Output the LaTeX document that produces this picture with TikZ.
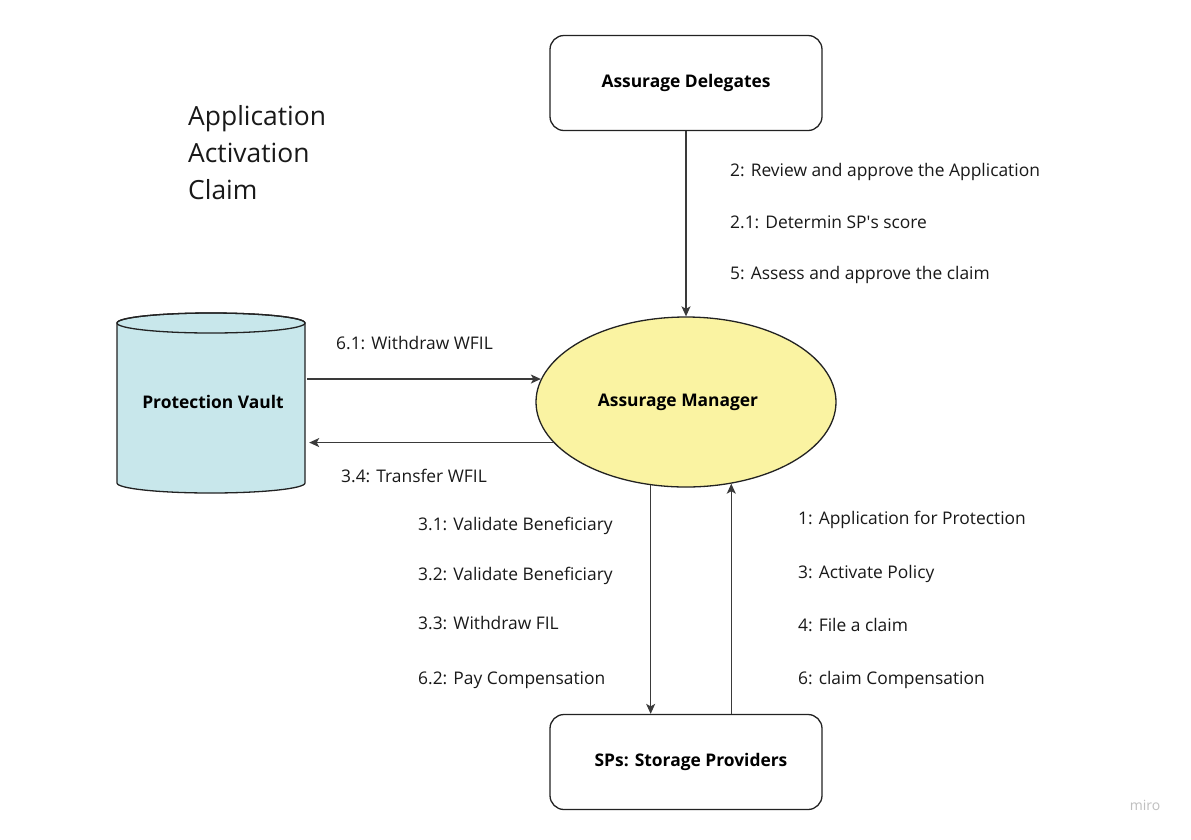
\documentclass[tikz,border=0pt]{standalone}
\usepackage{fontspec}
\setmainfont{Open Sans}
\usetikzlibrary{shapes.geometric,arrows.meta,calc}
\definecolor{vaultfill}{HTML}{C8E7EB}
\definecolor{mgrfill}{HTML}{FAF3A2}
\definecolor{linec}{HTML}{222222}
\definecolor{arrc}{HTML}{3A3A3A}
\begin{document}
\begin{tikzpicture}[x=1pt,y=1pt,
  boxnode/.style={draw=linec,line width=1.3pt,rounded corners=14pt,minimum width=272pt,minimum height=95pt,inner sep=0pt,font=\fontsize{17.4}{20}\selectfont\bfseries,fill=white},
  lbl/.style={anchor=base west,inner sep=0pt,font=\fontsize{17.4}{20}\selectfont,text=black!90},
  ttl/.style={anchor=base west,inner sep=0pt,font=\fontsize{26.4}{30}\selectfont,text=black!90},
  arr/.style={draw=arrc,line width=1.3pt,-{Stealth[length=10pt,width=9pt,inset=2.5pt]}}
]
\useasboundingbox (0,0) rectangle (1191,-839);
\fill[white] (0,0) rectangle (1191,-839);

% title
\node[ttl] (t1) at (188,-125) {Application};
\node[ttl] (t2) at (188,-162) {Activation};
\node[ttl] (t3) at (188,-199) {Claim};

% nodes
\node[boxnode] (del) at (686,-83) {Assurage Delegates};
\node[boxnode] (sp) at (686,-762) {\hspace*{10pt}SPs: Storage Providers};
\node[ellipse,draw=linec,line width=1.3pt,fill=mgrfill,minimum width=300pt,minimum height=170pt,inner sep=0pt,font=\fontsize{17.4}{20}\selectfont\bfseries] (am) at (686,-402) {\hspace*{-16pt}Assurage Manager};

% cylinder
\fill[vaultfill,draw=linec,line width=1.3pt] (117,-323) -- (117,-483) arc (180:360:94pt and 10pt) -- (305,-323) arc (0:180:94pt and 10pt) -- cycle;
\draw[linec,line width=1.3pt] (211,-323) ellipse (94pt and 10pt);
\node[minimum width=188pt,minimum height=170pt,inner sep=0pt,font=\fontsize{17.4}{20}\selectfont\bfseries] (vault) at (213,-403) {\raisebox{2pt}{Protection Vault}};

% connectors
\draw[arr] (del.south) -- (am.north);
\draw[arr] (vault.east |- am.171.8) -- (am.171.8);
\draw[arr] (am.197.3) -- ($(vault.east |- am.197.3)+(2,0)$);
\draw[arr] (am.247.7) -- (sp.north -| am.247.7);
\draw[arr] (sp.north -| am.299) -- (am.299);

% labels
\node[lbl] (l2) at (730,-176) {2: Review and approve the Application};
\node[lbl] (l21) at (730,-228) {2.1: Determin SP\textquotesingle s score};
\node[lbl] (l5) at (730,-279) {5: Assess and approve the claim};
\node[lbl] (l61) at (336,-349) {6.1: Withdraw WFIL};
\node[lbl] (l34) at (341,-482) {3.4: Transfer WFIL};
\node[lbl] (l31) at (418,-530) {3.1: Validate Beneficiary};
\node[lbl] (l32) at (418,-580) {3.2: Validate Beneficiary};
\node[lbl] (l33) at (418,-629) {3.3: Withdraw FIL};
\node[lbl] (l62) at (418,-684) {6.2: Pay Compensation};
\node[lbl] (l1) at (798,-524) {1: Application for Protection};
\node[lbl] (l3) at (798,-578) {3: Activate Policy};
\node[lbl] (l4) at (798,-631) {4: File a claim};
\node[lbl] (l6) at (798,-684) {6: claim Compensation};

% watermark
\node[inner sep=0pt,font=\fontsize{14}{16}\selectfont,text=black!25] (miro) at (1145,-805) {miro};
\end{tikzpicture}
\end{document}
